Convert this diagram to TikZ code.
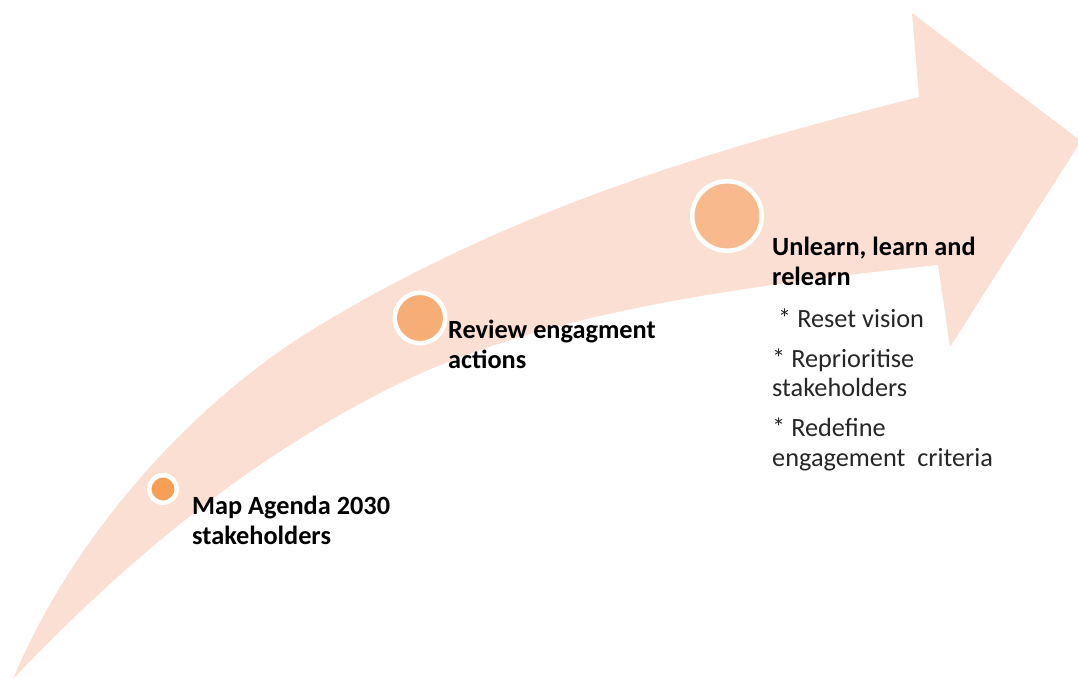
\documentclass[tikz,border=0pt]{standalone}
\usepackage{fontspec}
\setmainfont{Carlito}
\definecolor{arrowpeach}{HTML}{FBDFD3}
\definecolor{dotA}{HTML}{F79E57}
\definecolor{dotB}{HTML}{F6AE76}
\definecolor{dotC}{HTML}{F8BA8C}
\definecolor{itemgray}{HTML}{262626}
\tikzset{
  dot/.style={circle, inner sep=0pt, draw=white, line width=4.5pt},
  boldlabel/.style={anchor=base west, inner sep=0pt, align=left, text=black,
    font=\fontsize{26.3}{29.5}\selectfont\bfseries},
  itemlabel/.style={anchor=base west, inner sep=0pt, align=left, text=itemgray,
    font=\fontsize{26.3}{29.5}\selectfont}
}
\begin{document}
\begin{tikzpicture}[x=1pt,y=-1pt]
\clip (0,0) rectangle (1078,679);
% big curved arrow
\fill[arrowpeach]
  (13,679) .. controls (72,538) and (190,403) .. (320,325)
  .. controls (490,223) and (669,159.5) .. (919,97)
  -- (912,13) -- (1081,141) -- (950,347) -- (938,265)
  .. controls (700,290) and (520,320) .. (380,393)
  .. controls (230,471) and (113,574) .. (13,679)
  -- cycle;
% milestones
\node[dot, fill=dotA, minimum size=27.5pt] (c1) at (163,489) {};
\node[dot, fill=dotB, minimum size=50.5pt] (c2) at (420,318) {};
\node[dot, fill=dotC, minimum size=69.5pt] (c3) at (727,216) {};
% labels (anchored at the baseline of their last line)
\node[boldlabel] (l1) at (192,544) {Map Agenda 2030\\stakeholders};
\node[boldlabel] (l2) at (448,368) {Review engagment\\actions};
\node[boldlabel] (l3) at (772,285) {Unlearn, learn and\\relearn};
\node[itemlabel] (items) at (772,466) {\hspace*{6pt}* Reset vision\\[10.5pt]* Reprioritise\\stakeholders\\[10.5pt]* Redefine\\engagement\ \ criteria};
\end{tikzpicture}
\end{document}
